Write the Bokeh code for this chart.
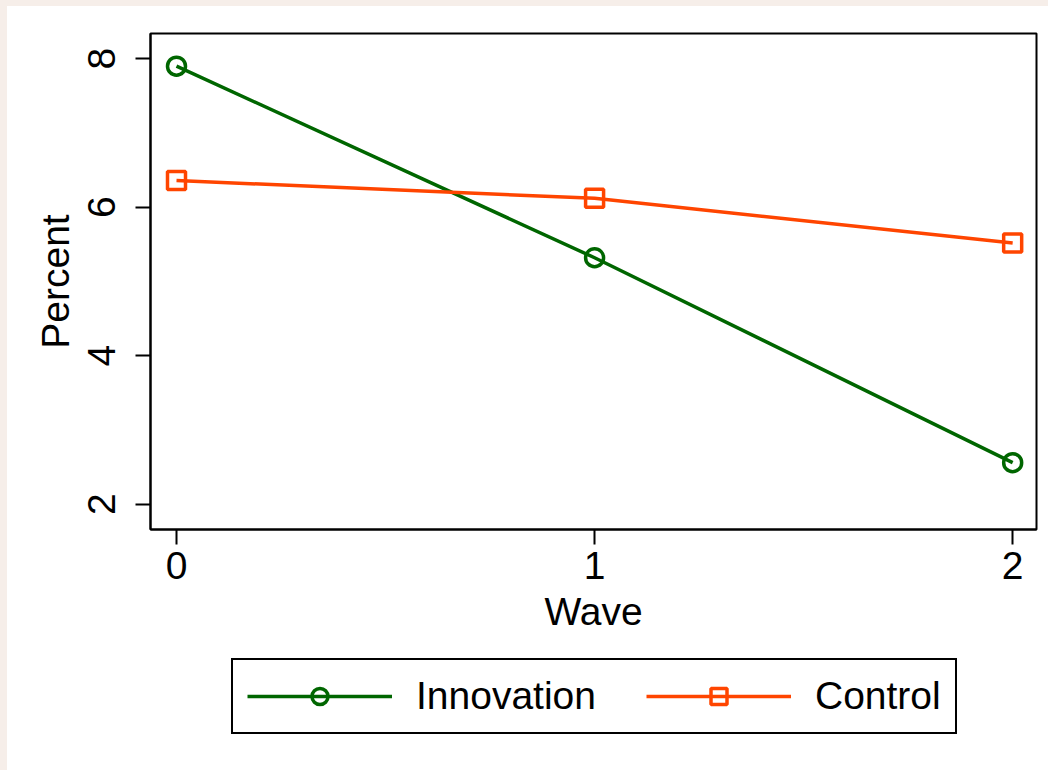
from bokeh.plotting import figure
from bokeh.models import Range1d, Legend, LegendItem, FixedTicker
from bokeh.layouts import column
from bokeh.embed import file_html
from bokeh.resources import INLINE

waves = [0, 1, 2]
innovation = [7.9, 5.32, 2.56]
control = [6.36, 6.12, 5.52]
series_names = ["Innovation", "Control"]
y_ticks = [2, 4, 6, 8]
x_ticks = [0, 1, 2]

GREEN = "#006600"
ORANGE = "#ff4500"
FONT = "Liberation Sans"
FS = "39px"
LW = 3.5
MS = 18

# main chart
p = figure(width=1041, height=640,
           x_range=Range1d(-0.0622, 2.057), y_range=Range1d(1.66, 8.34),
           output_backend="svg", toolbar_location=None,
           min_border_left=143, min_border_right=12, min_border_top=27, min_border_bottom=117,
           background_fill_color="white", border_fill_color="white",
           outline_line_color="black", outline_line_width=2, outline_line_alpha=1)
p.grid.visible = False

def draw(fig):
    a = fig.line(waves, innovation, line_color=GREEN, line_width=LW)
    b = fig.scatter(waves, innovation, marker="circle", size=MS, line_color=GREEN, line_width=LW, fill_alpha=0)
    c = fig.line(waves, control, line_color=ORANGE, line_width=LW)
    d = fig.scatter(waves, control, marker="square", size=MS, line_color=ORANGE, line_width=LW, fill_alpha=0)
    return a, b, c, d

draw(p)

for ax, ticks in ((p.xaxis[0], x_ticks), (p.yaxis[0], y_ticks)):
    ax.ticker = FixedTicker(ticks=ticks, minor_ticks=[])
    ax.major_tick_out = 15
    ax.major_tick_in = 0
    ax.minor_tick_out = 0
    ax.minor_tick_in = 0
    ax.axis_line_width = 2
    ax.axis_line_color = "black"
    ax.major_tick_line_width = 2
    ax.major_label_text_font = FONT
    ax.major_label_text_font_size = FS
    ax.major_label_text_color = "black"
    ax.axis_label_text_font = FONT
    ax.axis_label_text_font_size = FS
    ax.axis_label_text_font_style = "normal"
    ax.axis_label_text_color = "black"

p.xaxis.axis_label = "Wave"
p.xaxis.major_label_standoff = 7
p.xaxis.axis_label_standoff = 8
p.yaxis.axis_label = "Percent"
p.yaxis.major_label_orientation = "vertical"
p.yaxis.major_label_standoff = 20
p.yaxis.axis_label_standoff = 9

# legend strip below (its glyph renderers sit outside its visible ranges);
# the column aligns its frame with the chart's frame
q = figure(width=1041, height=124, x_range=Range1d(100, 101), y_range=Range1d(100, 101),
           output_backend="svg", toolbar_location=None,
           x_axis_location=None, y_axis_location=None,
           min_border_left=143, min_border_right=12, min_border_top=0, min_border_bottom=0,
           background_fill_color="white", border_fill_color="white", outline_line_color=None)
q.grid.visible = False
l1, s1, l2, s2 = draw(q)

legend = Legend(items=[LegendItem(label=series_names[0], renderers=[l1, s1]),
                       LegendItem(label=series_names[1], renderers=[l2, s2])],
                orientation="horizontal", location=(81, 36), margin=0,
                border_line_color="black", border_line_width=2, border_line_alpha=1,
                background_fill_color="white", background_fill_alpha=1,
                padding=14, spacing=50, glyph_width=145, glyph_height=40,
                label_standoff=24, label_text_font=FONT, label_text_font_size=FS,
                label_text_color="black")
q.add_layout(legend)

layout = column(p, q, spacing=0)
html = file_html(layout, INLINE)
html = html.replace("</head>", "<style>html,body{margin:0 !important;padding:0 !important;background:white;} body{border-top:6px solid #f6eee9;border-left:7px solid #f6eee9;}</style></head>", 1)
open("out.html", "w").write(html)
